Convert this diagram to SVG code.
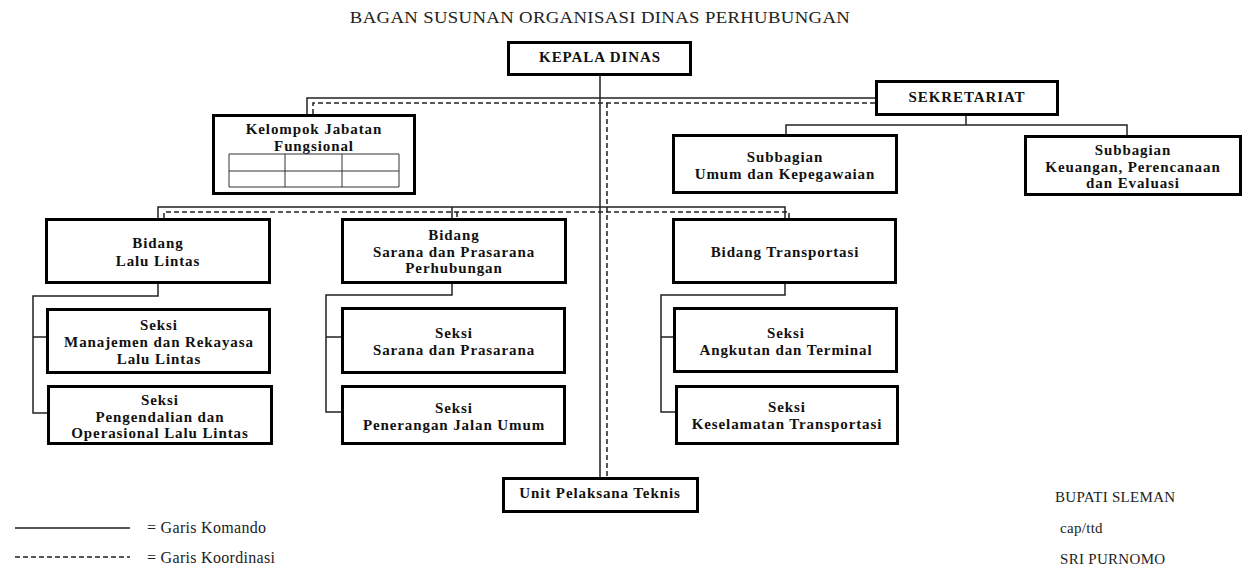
<svg xmlns="http://www.w3.org/2000/svg" width="1247" height="576" viewBox="0 0 1247 576">
<style>
.box{fill:#fff;stroke:#000;stroke-width:3}
.lbl{font-family:"Liberation Serif","Times New Roman",serif;font-weight:bold;font-size:15px;letter-spacing:0.9px;text-anchor:middle;fill:#111}
.reg{font-family:"Liberation Serif","Times New Roman",serif;font-size:16px;letter-spacing:0.3px;fill:#222}
.sig{font-family:"Liberation Serif","Times New Roman",serif;font-size:15px;letter-spacing:0.3px;fill:#222}
.cmd{fill:none;stroke:#222;stroke-width:1.5}
.crd{fill:none;stroke:#222;stroke-width:1.5;stroke-dasharray:5,3}
.grid{fill:none;stroke:#333;stroke-width:1}
</style>
<rect width="1247" height="576" fill="#fff"/>
<text class="reg" transform="translate(600,23) scale(1.17,1)" x="0" y="0" font-size="17" letter-spacing="0" text-anchor="middle">BAGAN SUSUNAN ORGANISASI DINAS PERHUBUNGAN</text>

<g id="connectors">
<path class="cmd" d="M600 76V478M307 114V98H876M966 116V125M786 134V125H1127V135"/>
<path class="crd" d="M313 114V103H876M607 103V478"/>
<path class="cmd" d="M158 218V207H785V218M452 207V218"/>
<path class="crd" d="M164 218V212H789V218M457 212V218"/>
<path class="cmd" d="M158 284V296H33V413H48M33 337H47"/>
<path class="cmd" d="M452 284V295H326V412H342M326 337H342"/>
<path class="cmd" d="M785 284V295H661V412H676M661 337H674"/>
</g>

<g id="kepala"><rect class="box" x="508.5" y="42.5" width="182" height="32"/><text class="lbl" x="600" y="62">KEPALA DINAS</text></g>
<g id="sekretariat"><rect class="box" x="876.5" y="81.5" width="181" height="33"/><text class="lbl" x="967" y="102">SEKRETARIAT</text></g>
<g id="kjf"><rect class="box" x="213.5" y="115.5" width="201" height="78"/>
<text class="lbl" x="314" y="134">Kelompok Jabatan</text><text class="lbl" x="314" y="151">Fungsional</text>
<path class="grid" d="M229 154H399V187H229ZM229 171H399M285 154V187M342 154V187"/></g>
<g id="sub-umum"><rect class="box" x="673.5" y="135.5" width="223" height="57"/>
<text class="lbl" x="785" y="162">Subbagian</text><text class="lbl" x="785" y="179">Umum dan Kepegawaian</text></g>
<g id="sub-keuangan"><rect class="box" x="1025.5" y="136.5" width="215" height="58"/>
<text class="lbl" x="1133" y="155">Subbagian</text><text class="lbl" x="1133" y="172">Keuangan, Perencanaan</text><text class="lbl" x="1133" y="188">dan Evaluasi</text></g>

<g id="bidang-lalin"><rect class="box" x="46.5" y="219.5" width="223" height="63"/>
<text class="lbl" x="158" y="248">Bidang</text><text class="lbl" x="158" y="266">Lalu Lintas</text></g>
<g id="seksi-manajemen"><rect class="box" x="47.5" y="309.5" width="222" height="63"/>
<text class="lbl" x="159" y="330">Seksi</text><text class="lbl" x="159" y="347">Manajemen dan Rekayasa</text><text class="lbl" x="159" y="364">Lalu Lintas</text></g>
<g id="seksi-pengendalian"><rect class="box" x="48.5" y="386.5" width="223" height="57"/>
<text class="lbl" x="160" y="405">Seksi</text><text class="lbl" x="160" y="422">Pengendalian dan</text><text class="lbl" x="160" y="438">Operasional Lalu Lintas</text></g>

<g id="bidang-sarana"><rect class="box" x="342.5" y="219.5" width="223" height="63"/>
<text class="lbl" x="454" y="240">Bidang</text><text class="lbl" x="454" y="257">Sarana dan Prasarana</text><text class="lbl" x="454" y="273">Perhubungan</text></g>
<g id="seksi-sarana"><rect class="box" x="342.5" y="308.5" width="222" height="64"/>
<text class="lbl" x="454" y="338">Seksi</text><text class="lbl" x="454" y="355">Sarana dan Prasarana</text></g>
<g id="seksi-penerangan"><rect class="box" x="342.5" y="386.5" width="222" height="57"/>
<text class="lbl" x="454" y="413">Seksi</text><text class="lbl" x="454" y="430">Penerangan Jalan Umum</text></g>

<g id="bidang-transportasi"><rect class="box" x="673.5" y="219.5" width="222" height="63"/>
<text class="lbl" x="785" y="257">Bidang Transportasi</text></g>
<g id="seksi-angkutan"><rect class="box" x="674.5" y="308.5" width="222" height="63"/>
<text class="lbl" x="786" y="338">Seksi</text><text class="lbl" x="786" y="355">Angkutan dan Terminal</text></g>
<g id="seksi-keselamatan"><rect class="box" x="676.5" y="386.5" width="221" height="57"/>
<text class="lbl" x="787" y="412">Seksi</text><text class="lbl" x="787" y="429">Keselamatan Transportasi</text></g>

<g id="upt"><rect class="box" x="503.5" y="478.5" width="194" height="33"/><text class="lbl" x="600" y="498">Unit Pelaksana Teknis</text></g>

<g id="legend">
<path class="cmd" d="M15 528H130"/><path class="crd" d="M15 557H130"/>
<text class="reg" x="147" y="533">= Garis Komando</text>
<text class="reg" x="147" y="563">= Garis Koordinasi</text>
</g>
<g id="signature">
<text class="sig" x="1055" y="502">BUPATI SLEMAN</text>
<text class="sig" x="1060" y="533">cap/ttd</text>
<text class="sig" x="1060" y="564">SRI PURNOMO</text>
</g>
</svg>
